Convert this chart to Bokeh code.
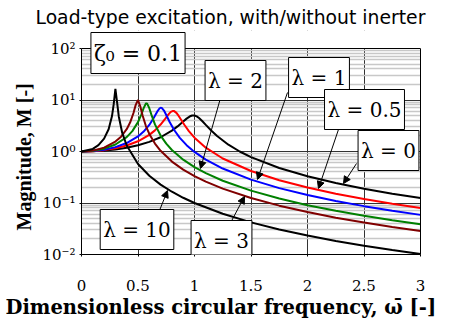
from bokeh.plotting import figure
from bokeh.models import FixedTicker, Label, Arrow, NormalHead, Title, LogAxis
from bokeh.embed import file_html
from bokeh.resources import INLINE

# ---------------- data ----------------
w_l0 = [0, 0.1, 0.2, 0.3, 0.4, 0.5, 0.6, 0.7, 0.8, 0.85, 0.9, 0.93, 0.96, 0.98, 0.99, 1.0,
        1.02, 1.04, 1.07, 1.1, 1.15, 1.2, 1.3, 1.4, 1.5, 1.75, 2.0, 2.25, 2.5, 2.75, 3.0]
m_l0 = [1.0, 1.0099, 1.0408, 1.0965, 1.1851, 1.3216, 1.5357, 1.8908, 2.5384, 3.0728, 3.8208,
        4.350, 4.822, 5.001, 5.025, 5.0, 4.809, 4.476, 3.869, 3.288, 2.5245, 1.9952, 1.3562,
        1.0, 0.7779, 0.4780, 0.3304, 0.2447, 0.1896, 0.1519, 0.1247]

w_l05 = [0, 0.1, 0.2, 0.3, 0.4, 0.5, 0.6, 0.65, 0.7, 0.74, 0.77, 0.79, 0.81, 0.82, 0.84, 0.86,
         0.88, 0.91, 0.95, 1.0, 1.1, 1.25, 1.5, 1.75, 2.0, 2.25, 2.5, 2.75, 3.0]
m_l05 = [1.0, 1.0150, 1.0629, 1.1533, 1.3086, 1.5799, 2.1035, 2.5731, 3.3366, 4.311, 5.273,
         5.868, 6.144, 6.089, 5.622, 4.906, 4.185, 3.301, 2.4904, 1.8570, 1.1846, 0.7316,
         0.4177, 0.2770, 0.1994, 0.1513, 0.1192, 0.0965, 0.0799]

w_l1 = [0, 0.1, 0.2, 0.3, 0.4, 0.5, 0.55, 0.6, 0.64, 0.67, 0.69, 0.7, 0.71, 0.73, 0.75, 0.78,
        0.82, 0.87, 0.93, 1.0, 1.1, 1.25, 1.5, 1.75, 2.0, 2.25, 2.5, 2.75, 3.0]
m_l1 = [1.0, 1.0202, 1.0859, 1.2163, 1.4605, 1.9612, 2.4388, 3.2827, 4.514, 5.934, 6.847,
        7.071, 7.031, 6.244, 5.121, 3.744, 2.619, 1.8434, 1.3278, 0.9806, 0.6959, 0.4674,
        0.2847, 0.1947, 0.1426, 0.1095, 0.0869, 0.0707, 0.0588]

w_l2 = [0, 0.1, 0.2, 0.3, 0.4, 0.45, 0.5, 0.53, 0.55, 0.57, 0.58, 0.6, 0.62, 0.65, 0.7, 0.75,
        0.8, 0.9, 1.0, 1.1, 1.25, 1.5, 1.75, 2.0, 2.25, 2.5, 2.75, 3.0]
m_l2 = [1.0, 1.0307, 1.1352, 1.3653, 1.9007, 2.4833, 3.714, 5.272, 6.958, 8.564, 8.594, 6.934,
        5.074, 3.362, 2.0391, 1.4211, 1.0709, 0.6938, 0.4975, 0.3789, 0.2706, 0.1737, 0.1220,
        0.0908, 0.0704, 0.0563, 0.0461, 0.0385]

w_l3 = [0, 0.1, 0.2, 0.3, 0.35, 0.4, 0.43, 0.46, 0.48, 0.5, 0.52, 0.54, 0.57, 0.6, 0.65, 0.7,
        0.8, 0.9, 1.0, 1.1, 1.25, 1.5, 1.75, 2.0, 2.25, 2.5, 2.75, 3.0]
m_l3 = [1.0, 1.0414, 1.1891, 1.5557, 1.9426, 2.7116, 3.646, 5.585, 8.068, 10.0, 7.565, 5.041,
        3.120, 2.1926, 1.4242, 1.0308, 0.6377, 0.4450, 0.3326, 0.2600, 0.1903, 0.1249, 0.0888,
        0.0666, 0.0519, 0.0417, 0.0342, 0.0286]

w_l10 = [0, 0.1, 0.15, 0.2, 0.24, 0.27, 0.285, 0.3, 0.315, 0.33, 0.36, 0.4, 0.5, 0.6, 0.7, 0.8,
         0.9, 1.0, 1.25, 1.5, 1.75, 2.0, 2.25, 2.5, 2.75, 3.0]
m_l10 = [1.0, 1.123, 1.328, 1.781, 2.706, 4.87, 8.28, 16.44, 9.00, 4.79, 2.317, 1.309, 0.5705,
         0.3376, 0.2277, 0.1655, 0.1264, 0.1000, 0.0618, 0.0421, 0.0306, 0.0233, 0.0183,
         0.0148, 0.0122, 0.0102]

series_w = [w_l0, w_l05, w_l1, w_l2, w_l3, w_l10]
series_m = [m_l0, m_l05, m_l1, m_l2, m_l3, m_l10]
series_colors = ["#000000", "#ff0000", "#0000ff", "#008000", "#800000", "#000000"]

x_ticks = [0, 0.5, 1, 1.5, 2, 2.5, 3]
x_tick_labels = ["0", "0.5", "1", "1.5", "2", "2.5", "3"]
y_ticks = [0.01, 0.1, 1, 10, 100]
y_tick_labels = ["10⁻²", "10⁻¹", "10⁰", "10¹", "10²"]
y_minor = [m * 10.0 ** e for e in range(-2, 2) for m in range(2, 10)]

X_MIN, X_MAX = 0, 3
Y_MIN, Y_MAX = 0.01, 100

title_text = "Load-type excitation, with/without inerter"
x_title = "Dimensionless circular frequency, ω̄ [-]"
y_title = "Magnitude, M [-]"
zeta_text = "ζ₀ = 0.1"

# ---------------- layout helpers (page pixels -> data) ----------------
FRAME_LEFT, FRAME_RIGHT, FRAME_BOTTOM = 81, 420, 254
PX_PER_DEC = 51.5
PY_ONE = 151.0
PAD_TOP = 30  # frame is extended upwards so that the ζ box is not clipped


def fx(px):
    return (px - FRAME_LEFT) / ((FRAME_RIGHT - FRAME_LEFT) / (X_MAX - X_MIN))


def fy(py):
    return 10 ** ((PY_ONE - py) / PX_PER_DEC)


Y_TOP = fy(PAD_TOP)

# ---------------- figure ----------------
p = figure(width=456, height=328, x_range=(X_MIN, X_MAX), y_range=(Y_MIN, Y_TOP),
           y_axis_type="log", output_backend="svg", toolbar_location=None,
           min_border_left=FRAME_LEFT, min_border_right=456 - FRAME_RIGHT,
           min_border_top=PAD_TOP, min_border_bottom=328 - FRAME_BOTTOM)
p.background_fill_color = "white"
p.border_fill_color = "white"
p.outline_line_color = None

p.xaxis.ticker = FixedTicker(ticks=x_ticks)
p.xaxis.major_label_overrides = {t: s for t, s in zip(x_ticks, x_tick_labels)}
p.yaxis.ticker = FixedTicker(ticks=y_ticks, minor_ticks=y_minor)
p.yaxis.major_label_overrides = {t: s for t, s in zip(y_ticks, y_tick_labels)}
p.yaxis.bounds = (Y_MIN, Y_MAX)

for ax in (p.xaxis, p.yaxis):
    ax.axis_line_color = "black"
    ax.major_tick_in = 0
    ax.major_tick_out = 2
    ax.minor_tick_in = 0
    ax.minor_tick_out = 0
    ax.major_tick_line_color = "black"
    ax.major_label_text_font = "DejaVu Serif"
    ax.major_label_text_font_size = "15px"
    ax.major_label_text_color = "black"

p.xaxis.major_label_standoff = 23
p.yaxis.major_label_standoff = 4

right_axis = LogAxis(ticker=FixedTicker(ticks=[]), bounds=(Y_MIN, Y_MAX),
                     axis_line_color="black", major_tick_out=0, major_tick_in=0,
                     minor_tick_out=0, minor_tick_in=0, major_label_text_font_size="0px")
p.add_layout(right_axis, "right")

p.xgrid.grid_line_color = "#333333"
p.xgrid.grid_line_width = 1
p.ygrid.grid_line_color = "#333333"
p.ygrid.grid_line_width = 1
p.ygrid.minor_grid_line_color = "#c8c8c8"
p.ygrid.minor_grid_line_width = 1.5

# white band above the plotting box (hides the grid there) and top edge of the box
p.quad(left=[X_MIN], right=[X_MAX], bottom=[Y_MAX], top=[Y_TOP], fill_color="white",
       line_color=None)
p.segment(x0=[X_MIN], y0=[Y_MAX], x1=[X_MAX], y1=[Y_MAX], line_color="black", line_width=1)

for w, m, c in zip(series_w, series_m, series_colors):
    p.line(w, m, line_color=c, line_width=2)

# ---------------- titles ----------------
p.title = Title(text=title_text, align="left", offset=35 - FRAME_LEFT,
                text_font="DejaVu Sans", text_font_style="normal", text_font_size="18.8px",
                text_color="black", standoff=6)
p.add_layout(Title(text=x_title, align="left", offset=5 - FRAME_LEFT,
                   text_font="DejaVu Serif", text_font_style="bold", text_font_size="19.5px",
                   text_color="black", standoff=0), "below")
p.add_layout(Title(text=y_title, align="left", offset=FRAME_BOTTOM - 230,
                   text_font="Liberation Serif", text_font_style="bold", text_font_size="20px",
                   text_color="black", standoff=10), "left")

# ---------------- annotations ----------------
boxes = [
    (zeta_text, 137.5, 52.5, "22px"),
    ("λ = 2", 235, 80, "20px"),
    ("λ = 1", 318.5, 77, "20px"),
    ("λ = 0.5", 364, 109, "20px"),
    ("λ = 0", 388, 150, "20px"),
    ("λ = 10", 136.5, 229, "20px"),
    ("λ = 3", 221, 240, "20px"),
]
arrows = [
    (221, 94, 200, 168),
    (287, 92, 257, 179),
    (340, 123, 318, 188),
    (356, 163, 343, 183),
    (157, 215, 167, 190),
    (227, 228, 244, 196),
]
for x0, y0, x1, y1 in arrows:
    p.add_layout(Arrow(end=NormalHead(size=7, fill_color="black", line_color="black", line_width=1),
                       x_start=fx(x0), y_start=fy(y0), x_end=fx(x1), y_end=fy(y1),
                       line_color="black", line_width=1))

for txt, cx, cy, fs in boxes:
    p.add_layout(Label(x=fx(cx), y=fy(cy), text=txt, text_font="DejaVu Serif",
                       text_font_size=fs, text_align="center", text_baseline="middle",
                       text_color="black", background_fill_color="white",
                       border_line_color="black", border_line_width=1, padding=(3, 8)))

open("out.html", "w").write(file_html(p, INLINE))
